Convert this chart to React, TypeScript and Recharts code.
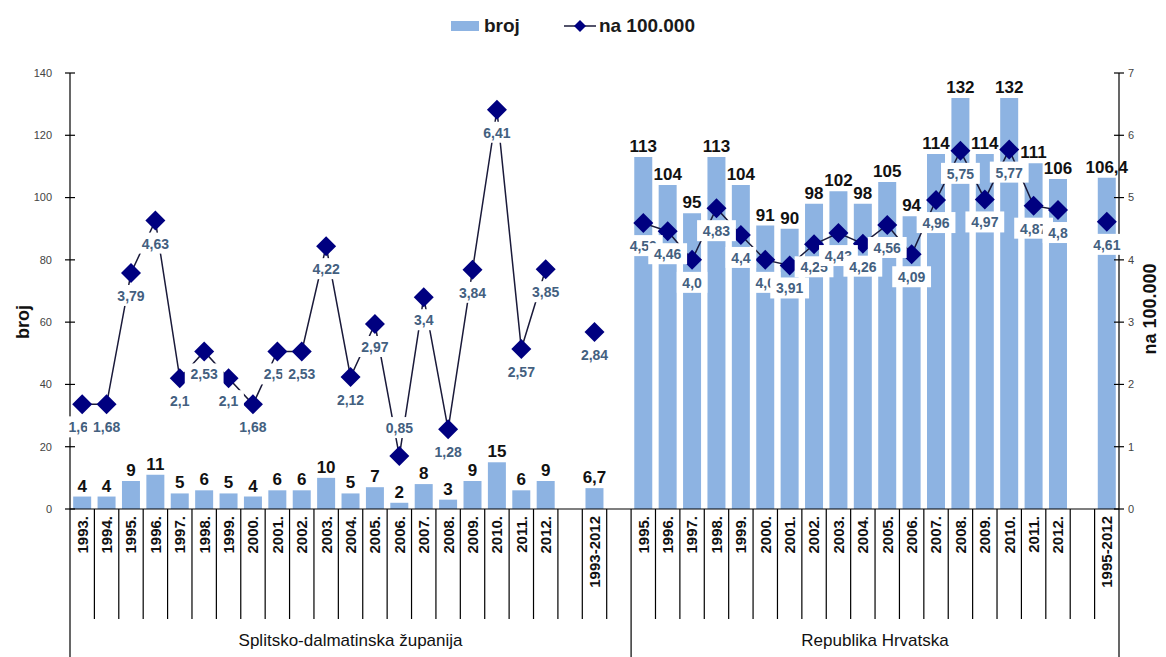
import React from 'react';
import { ComposedChart, Bar, Line, XAxis, YAxis, LabelList } from 'recharts';

const categories = [
  '1993.', '1994.', '1995.', '1996.', '1997.', '1998.', '1999.', '2000.', '2001.', '2002.',
  '2003.', '2004.', '2005.', '2006.', '2007.', '2008.', '2009.', '2010.', '2011.', '2012.',
  '', '1993-2012', '',
  '1995.', '1996.', '1997.', '1998.', '1999.', '2000.', '2001.', '2002.', '2003.', '2004.',
  '2005.', '2006.', '2007.', '2008.', '2009.', '2010.', '2011.', '2012.',
  '', '1995-2012',
];

const broj = [
  4, 4, 9, 11, 5, 6, 5, 4, 6, 6, 10, 5, 7, 2, 8, 3, 9, 15, 6, 9,
  null, 6.7, null,
  113, 104, 95, 113, 104, 91, 90, 98, 102, 98, 105, 94, 114, 132, 114, 132, 111, 106,
  null, 106.4,
];

const na100000 = [
  1.68, 1.68, 3.79, 4.63, 2.1, 2.53, 2.1, 1.68, 2.53, 2.53, 4.22, 2.12, 2.97, 0.85, 3.4, 1.28, 3.84, 6.41, 2.57, 3.85,
  null, 2.84, null,
  4.59, 4.46, 4.0, 4.83, 4.4, 4.0, 3.91, 4.25, 4.43, 4.26, 4.56, 4.09, 4.96, 5.75, 4.97, 5.77, 4.87, 4.8,
  null, 4.61,
];

const leftTicks = [0, 20, 40, 60, 80, 100, 120, 140];
const rightTicks = [0, 1, 2, 3, 4, 5, 6, 7];
const groups = ['Splitsko-dalmatinska županija', 'Republika Hrvatska'];

const data = categories.map((cat, i) => ({ cat, broj: broj[i], rate: na100000[i] }));

const W = 1166;
const H = 657;
const LEFT = 70;
const RIGHT = 1119;
const AXIS_Y = 509;
const BAND = (RIGHT - LEFT) / categories.length;
const FONT = '"Liberation Sans", Arial, sans-serif';
const BAR_COLOR = '#8db3e2';
const LABEL_COLOR = '#43607f';

const fmtRate = (v: number) => (Number.isInteger(v) ? v.toFixed(1) : String(v)).replace('.', ',');
const fmtBar = (v: number) => String(v).replace('.', ',');

const XTick = (props: any) => {
  const { x, payload, index } = props;
  const right = x + BAND / 2;
  const longRight = index === 22 || index === categories.length - 1;
  return (
    <g>
      {index === 0 && <line x1={x - BAND / 2} x2={x - BAND / 2} y1={AXIS_Y} y2={H} stroke="#000" strokeWidth={1.2} />}
      <line x1={right} x2={right} y1={AXIS_Y} y2={longRight ? H : 619} stroke="#000" strokeWidth={1.2} />
      {payload.value !== '' && (
        <text
          x={x}
          y={AXIS_Y + 7}
          dy="0.36em"
          transform={`rotate(-90, ${x}, ${AXIS_Y + 7})`}
          textAnchor="end"
          fontSize={15}
          fontWeight="bold"
          fill="#111"
          fontFamily={FONT}
        >
          {payload.value}
        </text>
      )}
      {index === 11 && (
        <text x={x} y={646} textAnchor="middle" fontSize={17} fill="#111" fontFamily={FONT}>
          {groups[0]}
        </text>
      )}
      {index === 33 && (
        <text x={x - BAND / 2} y={646} textAnchor="middle" fontSize={17} fill="#111" fontFamily={FONT}>
          {groups[1]}
        </text>
      )}
    </g>
  );
};

const LeftTick = (props: any) => (
  <g>
    <line x1={LEFT - 5} x2={LEFT + 5} y1={props.y} y2={props.y} stroke="#000" strokeWidth={1.2} />
    <text x={52} y={props.y} dy="0.35em" textAnchor="end" fontSize={11} fill="#444" fontFamily={FONT}>
      {props.payload.value}
    </text>
  </g>
);

const RightTick = (props: any) => (
  <g>
    <line x1={RIGHT - 5} x2={RIGHT + 5} y1={props.y} y2={props.y} stroke="#000" strokeWidth={1.2} />
    <text x={RIGHT + 9} y={props.y} dy="0.35em" textAnchor="start" fontSize={11} fill="#444" fontFamily={FONT}>
      {props.payload.value}
    </text>
  </g>
);

const AxisTitle = (props: any) => {
  const { cx, cy, text } = props;
  return (
    <text
      x={cx}
      y={cy}
      dy="0.35em"
      transform={`rotate(-90, ${cx}, ${cy})`}
      textAnchor="middle"
      fontSize={18}
      fontWeight="bold"
      fill="#111"
      fontFamily={FONT}
    >
      {text}
    </text>
  );
};

const Diamond = (props: any) => {
  const { cx, cy, index } = props;
  if (cy == null || isNaN(cy)) return <g key={`d${index}`} />;
  const r = 10;
  return (
    <path
      key={`d${index}`}
      d={`M${cx},${cy - r}L${cx + r},${cy}L${cx},${cy + r}L${cx - r},${cy}Z`}
      fill="#000080"
    />
  );
};

const RateLabel = (props: any) => {
  const { x, y, value } = props;
  if (value == null) return null;
  const txt = fmtRate(value);
  const w = txt.length * 8.2 + 6;
  // very low points get their label above, so it does not sit on the bar labels
  const cy = value < 1 ? y - 28 : y + 23;
  return (
    <g>
      <rect x={x - w / 2} y={cy - 11} width={w} height={21} fill="#fff" />
      <text x={x} y={cy} dy="0.35em" textAnchor="middle" fontSize={14} fontWeight="bold" fill={LABEL_COLOR} fontFamily={FONT}>
        {txt}
      </text>
    </g>
  );
};

const BarLabel = (props: any) => {
  const { x, y, width, value } = props;
  if (value == null) return null;
  return (
    <text x={x + width / 2} y={y - 5} textAnchor="middle" fontSize={17} fontWeight="bold" fill="#111" fontFamily={FONT}>
      {fmtBar(value)}
    </text>
  );
};

export default function App() {
  return (
    <div style={{ position: 'absolute', left: 0, top: 0, width: W, height: H, background: '#fff', fontFamily: FONT }}>
      <div
        style={{
          position: 'absolute',
          top: 15,
          left: 0,
          width: W,
          display: 'flex',
          justifyContent: 'center',
          alignItems: 'center',
          fontSize: 19,
          fontWeight: 'bold',
          color: '#1a1a1a',
          gap: 44,
          zIndex: 2,
        }}
      >
        <span style={{ display: 'flex', alignItems: 'center', marginLeft: -20 }}>
          <span style={{ display: 'inline-block', width: 28, height: 10, background: BAR_COLOR, marginRight: 5 }} />
          broj
        </span>
        <span style={{ display: 'flex', alignItems: 'center' }}>
          <svg width={32} height={16} style={{ marginRight: 3 }}>
            <line x1={0} x2={32} y1={8} y2={8} stroke="#1a1a3a" strokeWidth={1.5} />
            <path d="M16,2L22,8L16,14L10,8Z" fill="#000080" />
          </svg>
          na 100.000
        </span>
      </div>
      <ComposedChart width={W} height={H} data={data} margin={{ top: 73, right: 0, bottom: 0, left: 0 }} barCategoryGap="13%">
        <XAxis
          dataKey="cat"
          interval={0}
          height={H - AXIS_Y}
          tickLine={false}
          axisLine={{ stroke: '#000', strokeWidth: 1.2 }}
          tick={<XTick />}
        />
        <YAxis
          yAxisId="left"
          width={LEFT}
          domain={[0, 140]}
          ticks={leftTicks}
          tickLine={false}
          axisLine={{ stroke: '#000', strokeWidth: 1.2 }}
          tick={<LeftTick />}
          label={<AxisTitle cx={23} cy={322} text="broj" />}
        />
        <YAxis
          yAxisId="right"
          orientation="right"
          width={W - RIGHT}
          domain={[0, 7]}
          ticks={rightTicks}
          tickLine={false}
          axisLine={{ stroke: '#000', strokeWidth: 1.2 }}
          tick={<RightTick />}
          label={<AxisTitle cx={1150} cy={309} text="na 100.000" />}
        />
        <Bar yAxisId="left" dataKey="broj" fill={BAR_COLOR} isAnimationActive={false}>
          <LabelList dataKey="broj" content={<BarLabel />} />
        </Bar>
        <Line
          yAxisId="right"
          dataKey="rate"
          stroke="#1a1a3a"
          strokeWidth={1.5}
          connectNulls={false}
          dot={Diamond}
          activeDot={false}
          isAnimationActive={false}
        >
          <LabelList dataKey="rate" content={<RateLabel />} />
        </Line>
      </ComposedChart>
    </div>
  );
}
